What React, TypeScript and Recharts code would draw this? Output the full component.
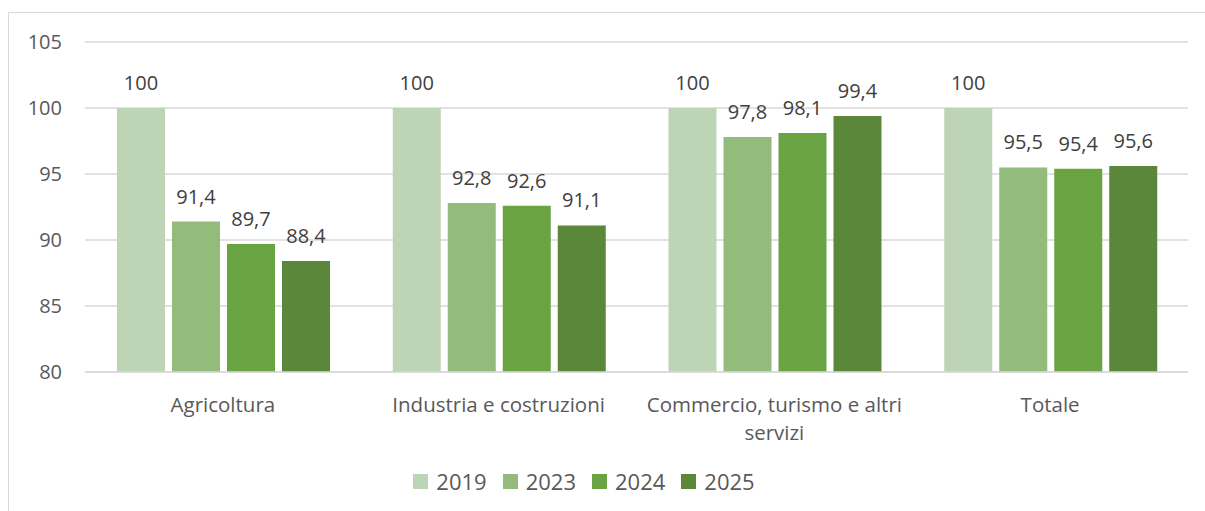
import React from "react";
import { BarChart, Bar, XAxis, YAxis, CartesianGrid, LabelList, Legend } from "recharts";

const categories = ["Agricoltura", "Industria e costruzioni", "Commercio, turismo e altri servizi", "Totale"];
const v2019 = [100, 100, 100, 100];
const v2023 = [91.4, 92.8, 97.8, 95.5];
const v2024 = [89.7, 92.6, 98.1, 95.4];
const v2025 = [88.4, 91.1, 99.4, 95.6];
const yTicks = [80, 85, 90, 95, 100, 105];

const series = [
  { key: "y2019", name: "2019", values: v2019, color: "#BDD5B4" },
  { key: "y2023", name: "2023", values: v2023, color: "#93BB7B" },
  { key: "y2024", name: "2024", values: v2024, color: "#69A342" },
  { key: "y2025", name: "2025", values: v2025, color: "#5A873A" },
];

const data = categories.map((c, i) => {
  const row: any = { name: c };
  series.forEach((s) => (row[s.key] = s.values[i]));
  return row;
});

const FONT = "'Open Sans', sans-serif";
const CAT_SIZE = 20.5;

const fmt = (v: any) => {
  const n = Number(v);
  return Number.isInteger(n) ? String(n) : n.toFixed(1).replace(".", ",");
};

let ctx: CanvasRenderingContext2D | null = null;
const measure = (s: string) => {
  if (!ctx) {
    const c = document.createElement("canvas");
    ctx = c.getContext("2d");
  }
  if (!ctx) return s.length * CAT_SIZE * 0.5;
  ctx.font = `${CAT_SIZE}px 'Open Sans'`;
  return ctx.measureText(s).width;
};

const wrap = (text: string, maxW: number) => {
  const words = text.split(" ");
  const lines: string[] = [];
  let cur = "";
  words.forEach((w) => {
    const t = cur ? cur + " " + w : w;
    if (cur && measure(t) > maxW) {
      lines.push(cur);
      cur = w;
    } else cur = t;
  });
  if (cur) lines.push(cur);
  return lines;
};

const CatTick = (props: any) => {
  const { x, y, payload } = props;
  const lines = wrap(String(payload.value), 258);
  return (
    <text
      x={x}
      y={y}
      textAnchor="middle"
      fill="#595959"
      style={{ fontFamily: FONT, fontSize: CAT_SIZE }}
    >
      {lines.map((l, i) => (
        <tspan key={i} x={x} y={y + 40 + i * 28}>
          {l}
        </tspan>
      ))}
    </text>
  );
};

const LegendContent = (props: any) => {
  const { payload } = props;
  return (
    <div style={{ display: "flex", justifyContent: "center", fontFamily: FONT, fontSize: 22, color: "#595959" }}>
      {(payload || []).map((p: any) => (
        <div key={p.value} style={{ display: "flex", alignItems: "center", margin: "0 8px" }}>
          <span style={{ width: 15, height: 15, background: p.color, display: "inline-block", marginRight: 8 }} />
          <span>{p.value}</span>
        </div>
      ))}
    </div>
  );
};

export default function App() {
  return (
    <div
      style={{
        position: "absolute",
        left: 8,
        top: 12,
        width: 1197,
        height: 499,
        borderTop: "1px solid #d9d9d9",
        borderLeft: "1px solid #d9d9d9",
        boxSizing: "border-box",
        overflow: "hidden",
      }}
    >
      <BarChart
        width={1196}
        height={497}
        data={data}
        margin={{ top: 29, right: 17, left: 0, bottom: 58 }}
        barCategoryGap={32}
        barGap={7}
      >
        <CartesianGrid vertical={false} stroke="#d9d9d9" strokeWidth={1.3} />
        <XAxis
          dataKey="name"
          height={80}
          axisLine={{ stroke: "#d9d9d9", strokeWidth: 1.3 }}
          tickLine={false}
          tickSize={0}
          tickMargin={0}
          interval={0}
          tick={<CatTick />}
        />
        <YAxis
          width={76}
          domain={[80, 105]}
          ticks={yTicks}
          axisLine={false}
          tickLine={false}
          tickSize={0}
          tickMargin={23}
          tick={{ fill: "#595959", fontSize: 20, fontFamily: FONT }}
        />
        <Legend
          layout="horizontal"
          verticalAlign="middle"
          align="center"
          wrapperStyle={{ position: "absolute", top: 453, left: 0, width: 1150 }}
          content={<LegendContent />}
        />
        {series.map((s) => (
          <Bar key={s.key} dataKey={s.key} name={s.name} fill={s.color} isAnimationActive={false}>
            <LabelList
              dataKey={s.key}
              position="top"
              offset={18}
              formatter={fmt}
              fill="#404040"
              style={{ fontFamily: FONT, fontSize: 20 }}
            />
          </Bar>
        ))}
      </BarChart>
    </div>
  );
}
